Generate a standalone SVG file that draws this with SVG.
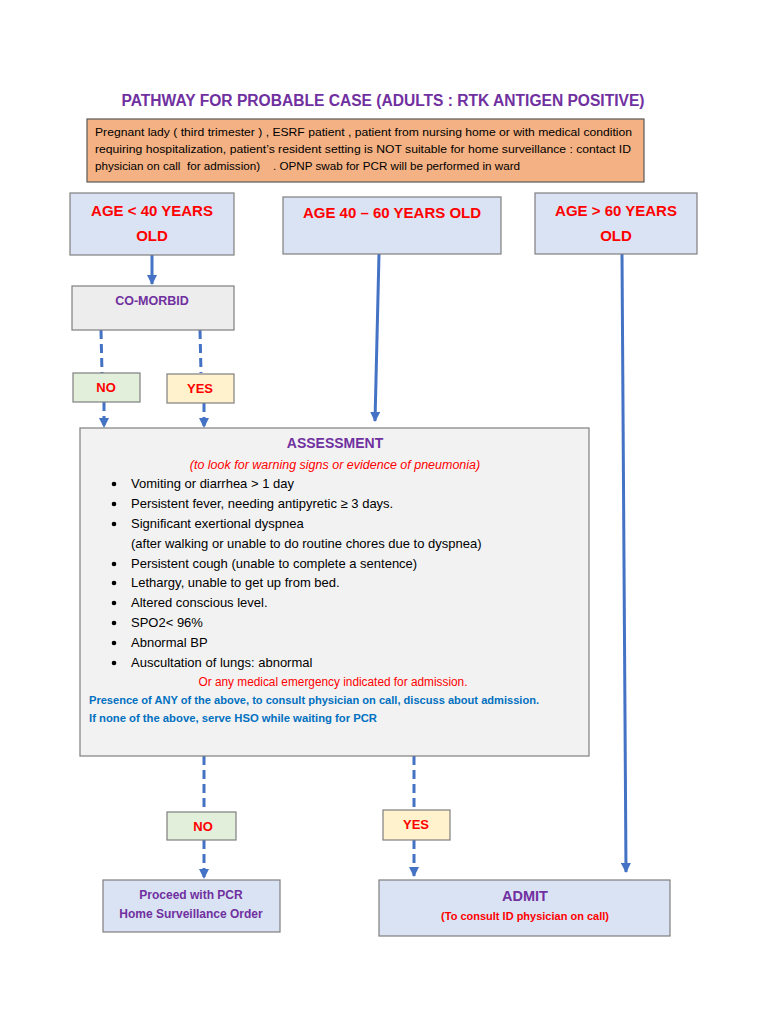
<svg xmlns="http://www.w3.org/2000/svg" width="768" height="1024" viewBox="0 0 768 1024">
<defs>
<style>
text{font-family:"Liberation Sans",Arial,sans-serif}
.box{stroke:#7f7f7f;stroke-width:1.2}
.blue{fill:#DAE3F3}
.grey{fill:#EDEDED}
.green{fill:#E2EFDA}
.yellow{fill:#FFF2CC}
.red{fill:#FF0000;font-weight:bold}
.purple{fill:#7030A0;font-weight:bold}
.body{fill:#000;font-size:13px}
.conn{stroke:#4472C4;stroke-width:3;fill:none}
.dash{stroke-dasharray:9,5}
</style>
<marker id="ah" viewBox="0 0 10 10" refX="9" refY="5" markerWidth="3.4" markerHeight="3.4" orient="auto" markerUnits="strokeWidth">
<path d="M0,0 L10,5 L0,10 z" fill="#4472C4"/>
</marker>
</defs>
<rect width="768" height="1024" fill="#ffffff"/>

<g id="title">
<text x="383" y="106" text-anchor="middle" class="purple" font-size="16" textLength="523" lengthAdjust="spacingAndGlyphs">PATHWAY FOR PROBABLE CASE (ADULTS : RTK ANTIGEN POSITIVE)</text>
</g>

<g id="note">
<rect x="87" y="119" width="557" height="63" fill="#F4B183" stroke="#595959" stroke-width="1.2"/>
<text x="95" y="136" fill="#000" font-size="11.5" textLength="537" lengthAdjust="spacingAndGlyphs">Pregnant lady ( third trimester ) , ESRF patient , patient from nursing home  or with medical condition</text>
<text x="95" y="153" fill="#000" font-size="11.5" textLength="536" lengthAdjust="spacingAndGlyphs">requiring hospitalization, patient’s resident setting is NOT suitable for home surveillance : contact ID</text>
<text x="95" y="170" fill="#000" font-size="11.5" textLength="425" lengthAdjust="spacingAndGlyphs" xml:space="preserve">physician on call  for admission)    . OPNP swab for PCR will be performed in ward</text>
</g>

<g id="connectors">
<line x1="152" y1="255" x2="152" y2="284" class="conn" marker-end="url(#ah)"/>
<line x1="379" y1="254" x2="375" y2="421" class="conn" marker-end="url(#ah)"/>
<line x1="622" y1="254" x2="626" y2="872" class="conn" marker-end="url(#ah)"/>
<line x1="101" y1="330" x2="102" y2="373" class="conn dash"/>
<line x1="200" y1="330" x2="201" y2="373" class="conn dash"/>
<line x1="104" y1="402" x2="104" y2="427" class="conn dash" marker-end="url(#ah)"/>
<line x1="204" y1="403" x2="204" y2="427" class="conn dash" marker-end="url(#ah)"/>
<line x1="204" y1="756" x2="204" y2="812" class="conn dash"/>
<line x1="204" y1="840" x2="204" y2="878" class="conn dash" marker-end="url(#ah)"/>
<line x1="414" y1="756" x2="414" y2="810" class="conn dash"/>
<line x1="414" y1="840" x2="414" y2="876" class="conn dash" marker-end="url(#ah)"/>
</g>

<g id="age-under-40">
<rect x="70" y="193" width="164" height="62" class="box blue"/>
<text x="152" y="216" text-anchor="middle" class="red" font-size="15">AGE &lt; 40 YEARS</text>
<text x="152" y="241" text-anchor="middle" class="red" font-size="15">OLD</text>
</g>

<g id="age-40-60">
<rect x="283" y="197" width="218" height="57" class="box blue"/>
<text x="392" y="218" text-anchor="middle" class="red" font-size="15">AGE 40 – 60 YEARS OLD</text>
</g>

<g id="age-over-60">
<rect x="535" y="193" width="162" height="61" class="box blue"/>
<text x="616" y="216" text-anchor="middle" class="red" font-size="15">AGE &gt; 60 YEARS</text>
<text x="616" y="241" text-anchor="middle" class="red" font-size="15">OLD</text>
</g>

<g id="comorbid">
<rect x="72" y="286" width="162" height="44" class="box grey"/>
<text x="152" y="305" text-anchor="middle" class="purple" font-size="12.5">CO-MORBID</text>
</g>

<g id="no-1">
<rect x="73" y="373" width="67" height="29" class="box green"/>
<text x="106" y="392" text-anchor="middle" class="red" font-size="13">NO</text>
</g>

<g id="yes-1">
<rect x="167" y="374" width="67" height="29" class="box yellow"/>
<text x="200" y="393" text-anchor="middle" class="red" font-size="13">YES</text>
</g>

<g id="assessment">
<rect x="80" y="428" width="509" height="328" fill="#F2F2F2" stroke="#7f7f7f" stroke-width="1.2"/>
<text x="335" y="448" text-anchor="middle" class="purple" font-size="14">ASSESSMENT</text>
<text x="335" y="469" text-anchor="middle" fill="#FF0000" font-style="italic" font-size="12.5">(to look for warning signs or evidence of pneumonia)</text>
<g class="body">
<circle cx="114" cy="484" r="2.3"/><text x="131" y="488">Vomiting or diarrhea &gt; 1 day</text>
<circle cx="114" cy="504" r="2.3"/><text x="131" y="508">Persistent fever, needing antipyretic ≥ 3 days.</text>
<circle cx="114" cy="524" r="2.3"/><text x="131" y="528">Significant exertional dyspnea</text>
<text x="131" y="548">(after walking or unable to do routine chores due to dyspnea)</text>
<circle cx="114" cy="564" r="2.3"/><text x="131" y="568">Persistent cough (unable to complete a sentence)</text>
<circle cx="114" cy="583" r="2.3"/><text x="131" y="587">Lethargy, unable to get up from bed.</text>
<circle cx="114" cy="603" r="2.3"/><text x="131" y="607">Altered conscious level.</text>
<circle cx="114" cy="623" r="2.3"/><text x="131" y="627">SPO2&lt; 96%</text>
<circle cx="114" cy="643" r="2.3"/><text x="131" y="647">Abnormal BP</text>
<circle cx="114" cy="663" r="2.3"/><text x="131" y="667">Auscultation of lungs: abnormal</text>
</g>
<text x="333" y="686" text-anchor="middle" fill="#FF0000" font-size="12" textLength="269" lengthAdjust="spacingAndGlyphs">Or any medical emergency indicated for admission.</text>
<text x="89" y="704" fill="#0070C0" font-weight="bold" font-size="11" textLength="450" lengthAdjust="spacingAndGlyphs">Presence of ANY of the above, to consult physician on call, discuss about admission.</text>
<text x="89" y="722" fill="#0070C0" font-weight="bold" font-size="11" textLength="288" lengthAdjust="spacingAndGlyphs">If none of the above, serve HSO while waiting for PCR</text>
</g>

<g id="no-2">
<rect x="167" y="812" width="69" height="28" class="box green"/>
<text x="203" y="831" text-anchor="middle" class="red" font-size="13">NO</text>
</g>

<g id="yes-2">
<rect x="383" y="810" width="67" height="30" class="box yellow"/>
<text x="416" y="829" text-anchor="middle" class="red" font-size="13">YES</text>
</g>

<g id="home-surveillance">
<rect x="103" y="880" width="177" height="52" class="box blue"/>
<text x="191" y="899" text-anchor="middle" class="purple" font-size="12">Proceed with PCR</text>
<text x="191" y="918" text-anchor="middle" class="purple" font-size="12">Home Surveillance Order</text>
</g>

<g id="admit">
<rect x="379" y="880" width="291" height="56" class="box blue"/>
<text x="525" y="901" text-anchor="middle" class="purple" font-size="14.5">ADMIT</text>
<text x="525" y="920" text-anchor="middle" class="red" font-size="11">(To consult ID physician on call)</text>
</g>
</svg>
